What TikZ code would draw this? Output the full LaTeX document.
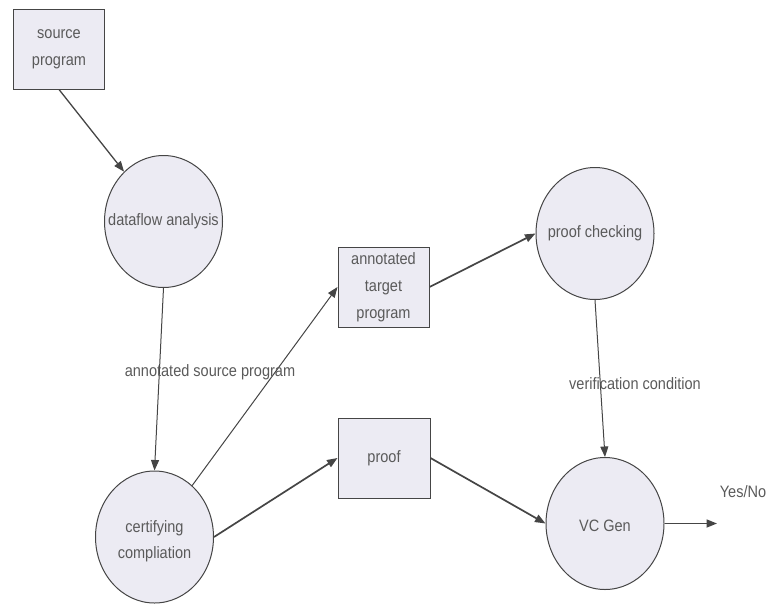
\documentclass[tikz,border=0pt]{standalone}
\usepackage{fontspec}
\setmainfont[FakeStretch=0.88]{Liberation Sans}
\usetikzlibrary{shapes.geometric,arrows.meta}
\definecolor{inkline}{HTML}{454545}
\definecolor{inktext}{HTML}{5A5A5A}
\definecolor{nodefill}{HTML}{ECEBF3}
\begin{document}
\begin{tikzpicture}[x=1pt,y=-1pt,
  every node/.style={text=inktext, font=\fontsize{16.5}{27}\selectfont},
  procnode/.style={ellipse, draw=inkline, line width=1pt, fill=nodefill,
    minimum width=118pt, minimum height=132pt, inner sep=0pt},
  datanode/.style={rectangle, draw=inkline, line width=1pt, fill=nodefill,
    minimum width=91pt, minimum height=80pt, inner sep=0pt, align=center},
  flow/.style={draw=inkline, line width=1pt, -{Triangle[length=10.5pt,width=8pt]}},
  thickflow/.style={flow, line width=1.7pt},
  edgelabel/.style={inner sep=0pt}
]
\useasboundingbox (0,0) rectangle (769,603);

% data items
\node[datanode] (src) at (59,49) {source\\program};
\node[datanode] (atp) at (383.5,287) {annotated\\target\\program};
\node[datanode, minimum width=92pt] (pf) at (384,458) {proof};

% processing stages
\node[procnode, label=center:{dataflow analysis}] (df) at (163.5,221.5) {};
\node[procnode, label={[yshift=-3pt]center:{\begin{tabular}{@{}c@{}}certifying\\[-1pt]compliation\end{tabular}}}] (cc) at (154.5,537) {};
\node[procnode, label=center:{proof checking}] (pc) at (595,233.5) {};
\node[procnode, label={[yshift=-2pt]center:{VC Gen}}] (vc) at (605,523.5) {};

% result
\coordinate (out) at (717,523.5);
\node[edgelabel] (yn) at (743,492) {Yes/No};

% flows
\draw[flow, line width=1.3pt] (src.south) -- (df);
\draw[flow] (df.south) -- (cc.north);
\draw[flow] (cc) -- (atp.west);
\draw[thickflow] (cc.east) -- (pf.west);
\draw[thickflow] (atp.east) -- (pc.west);
\draw[flow] (pc.south) -- (vc.north);
\draw[thickflow] (pf.east) -- (vc.west);
\draw[thickflow] (vc.east) -- (out);

% edge labels
\node[edgelabel] (asp) at (210,372) {annotated source program};
\node[edgelabel] (vcl) at (635,384) {verification condition};
\end{tikzpicture}
\end{document}
